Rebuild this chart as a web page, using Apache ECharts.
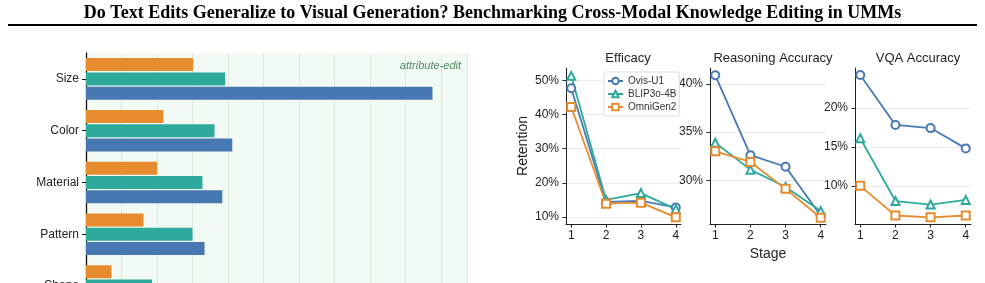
<!DOCTYPE html>
<html>
<head>
<meta charset="utf-8">
<script src="https://cdn.jsdelivr.net/npm/echarts@6/dist/echarts.min.js"></script>
<style>
  html, body { margin: 0; padding: 0; background: #fff; }
  #main { width: 985px; height: 283px; }
</style>
</head>
<body>
<div id="main"></div>
<script>
'use strict';

// Left panel: attribute-edit bars (in %)
var attributes = ['Size', 'Color', 'Material', 'Pattern', 'Shape'];
var barOvis = [48.8, 20.6, 19.2, 16.7, 11.5];
var barBlip = [19.6, 18.1, 16.4, 15.0, 9.3];
var barOmni = [15.1, 10.9, 10.0, 8.1, 3.6];

// Right panels: retention per editing stage
var stages = [1, 2, 3, 4];
var models = ['Ovis-U1', 'BLIP3o-4B', 'OmniGen2'];

var efficacyOvis = [47.7, 14.4, 14.7, 12.8];
var efficacyBlip = [51.3, 15.0, 17.0, 12.3];
var efficacyOmni = [42.2, 13.9, 14.2, 9.9];

var reasoningOvis = [40.9, 32.6, 31.4, 26.3];
var reasoningBlip = [33.9, 31.1, 29.3, 26.8];
var reasoningOmni = [33.0, 31.9, 29.1, 26.1];

var vqaOvis = [24.2, 17.8, 17.4, 14.8];
var vqaBlip = [16.1, 8.05, 7.6, 8.2];
var vqaOmni = [10.0, 6.2, 5.96, 6.2];

var efficacyTicks = [10, 20, 30, 40, 50];
var reasoningTicks = [30, 35, 40];
var vqaTicks = [10, 15, 20];

var colors = { ovis: '#4878b2', blip: '#2eaa9c', omni: '#e68b2e' };
var ink = '#222';

function pairs(vals) {
    return stages.map(function (s, i) { return [s, vals[i]]; });
}

function lineSeries(name, vals, idx, color, symbol) {
    return {
        name: name,
        type: 'line',
        xAxisIndex: idx,
        yAxisIndex: idx,
        data: pairs(vals),
        symbol: symbol,
        symbolSize: 8,
        clip: false,
        color: color,
        lineStyle: { width: 1.8, color: color },
        itemStyle: { color: color, borderColor: color, borderWidth: 1.6 }
    };
}

function barSeries(name, vals, color) {
    return {
        name: name,
        type: 'bar',
        xAxisIndex: 0,
        yAxisIndex: 0,
        data: vals,
        barWidth: 13,
        barGap: '10%',
        itemStyle: { color: color }
    };
}

function panelX(idx, name) {
    return {
        gridIndex: idx,
        type: 'value',
        min: 0.85,
        max: 4.15,
        name: name || '',
        nameLocation: 'middle',
        nameGap: 21,
        nameTextStyle: { fontSize: 14, color: ink },
        axisLine: { show: true, onZero: false, lineStyle: { color: ink, width: 1 } },
        axisTick: { show: true, customValues: stages, length: 3.5, lineStyle: { color: ink } },
        axisLabel: { customValues: stages, color: ink, fontSize: 12, margin: 6 },
        splitLine: { show: false }
    };
}

function panelY(idx, min, max, ticks, name) {
    return {
        gridIndex: idx,
        type: 'value',
        min: min,
        max: max,
        name: name || '',
        nameLocation: 'middle',
        nameGap: 36,
        nameTextStyle: { fontSize: 14, color: ink },
        axisLine: { show: true, onZero: false, lineStyle: { color: ink, width: 1 } },
        axisTick: { show: true, customValues: ticks, length: 3.5, lineStyle: { color: ink } },
        axisLabel: { customValues: ticks, color: ink, fontSize: 12, margin: 7, formatter: '{value}%' },
        splitLine: { show: true, lineStyle: { color: '#ebebeb', width: 1 } }
    };
}

function panelTitle(text, x) {
    return {
        text: text,
        left: x,
        top: 47,
        textAlign: 'center',
        textStyle: { fontSize: 13, fontWeight: 'normal', color: ink }
    };
}

var chart = echarts.init(document.getElementById('main'));

var option = {
    animation: false,
    textStyle: { fontFamily: 'Liberation Sans' },
    title: [
        {
            text: 'Do Text Edits Generalize to Visual Generation? Benchmarking Cross-Modal Knowledge Editing in UMMs',
            left: 'center',
            top: 4,
            padding: 0,
            textStyle: { fontFamily: 'Liberation Serif', fontWeight: 'bold', fontSize: 18, color: '#000' }
        },
        {
            text: 'attribute-edit',
            right: 524,
            top: 60,
            padding: 0,
            textStyle: { fontSize: 11, fontStyle: 'italic', fontWeight: 'normal', color: '#4e8c5e' }
        },
        panelTitle('Efficacy', 623),
        panelTitle('Reasoning Accuracy', 768),
        panelTitle('VQA Accuracy', 913)
    ],
    graphic: [
        { type: 'line', shape: { x1: 8, y1: 25, x2: 977, y2: 25 }, style: { stroke: '#000', lineWidth: 2 } }
    ],
    legend: {
        data: models,
        orient: 'vertical',
        left: 604,
        top: 72,
        itemWidth: 15,
        itemHeight: 8,
        itemGap: 1,
        padding: [3, 3, 3, 3],
        backgroundColor: 'rgba(255,255,255,0.85)',
        borderColor: '#dddddd',
        borderWidth: 1,
        borderRadius: 2,
        textStyle: { fontSize: 10, color: '#333', lineHeight: 12 }
    },
    grid: [
        // the figure continues below the crop, so this grid runs past the bottom edge
        { left: 86, top: 53, width: 381, height: 259, outerBoundsMode: 'none', containLabel: false,
          show: true, backgroundColor: '#f1faf3', borderWidth: 0 },
        { left: 566, top: 68, width: 115, height: 156, outerBoundsMode: 'none' },
        { left: 710, top: 68, width: 116, height: 156, outerBoundsMode: 'none' },
        { left: 855, top: 68, width: 116, height: 156, outerBoundsMode: 'none' }
    ],
    xAxis: [
        {
            gridIndex: 0,
            type: 'value',
            min: 0,
            max: 53.66,
            interval: 5,
            axisLine: { show: false },
            axisTick: { show: false },
            axisLabel: { show: false },
            splitLine: { show: true, lineStyle: { color: '#dce8de', width: 1 } }
        },
        panelX(1),
        panelX(2, 'Stage'),
        panelX(3)
    ],
    yAxis: [
        {
            gridIndex: 0,
            type: 'category',
            data: attributes,
            inverse: true,
            axisLine: { show: true, lineStyle: { color: '#111', width: 1.3 } },
            axisTick: { show: true, alignWithLabel: true, length: 4, lineStyle: { color: '#111' } },
            axisLabel: { fontSize: 12, color: ink, margin: 7 }
        },
        panelY(1, 7.96, 53.6, efficacyTicks, 'Retention'),
        panelY(2, 25.45, 41.66, reasoningTicks),
        panelY(3, 5.11, 25.1, vqaTicks)
    ],
    series: [
        lineSeries('Ovis-U1', efficacyOvis, 1, colors.ovis, 'emptyCircle'),
        lineSeries('BLIP3o-4B', efficacyBlip, 1, colors.blip, 'emptyTriangle'),
        lineSeries('OmniGen2', efficacyOmni, 1, colors.omni, 'emptyRect'),
        lineSeries('Ovis-U1', reasoningOvis, 2, colors.ovis, 'emptyCircle'),
        lineSeries('BLIP3o-4B', reasoningBlip, 2, colors.blip, 'emptyTriangle'),
        lineSeries('OmniGen2', reasoningOmni, 2, colors.omni, 'emptyRect'),
        lineSeries('Ovis-U1', vqaOvis, 3, colors.ovis, 'emptyCircle'),
        lineSeries('BLIP3o-4B', vqaBlip, 3, colors.blip, 'emptyTriangle'),
        lineSeries('OmniGen2', vqaOmni, 3, colors.omni, 'emptyRect'),
        // bars stack top-down in series order
        barSeries('OmniGen2', barOmni, colors.omni),
        barSeries('BLIP3o-4B', barBlip, colors.blip),
        barSeries('Ovis-U1', barOvis, colors.ovis)
    ]
};

chart.setOption(option);
</script>
</body>
</html>
